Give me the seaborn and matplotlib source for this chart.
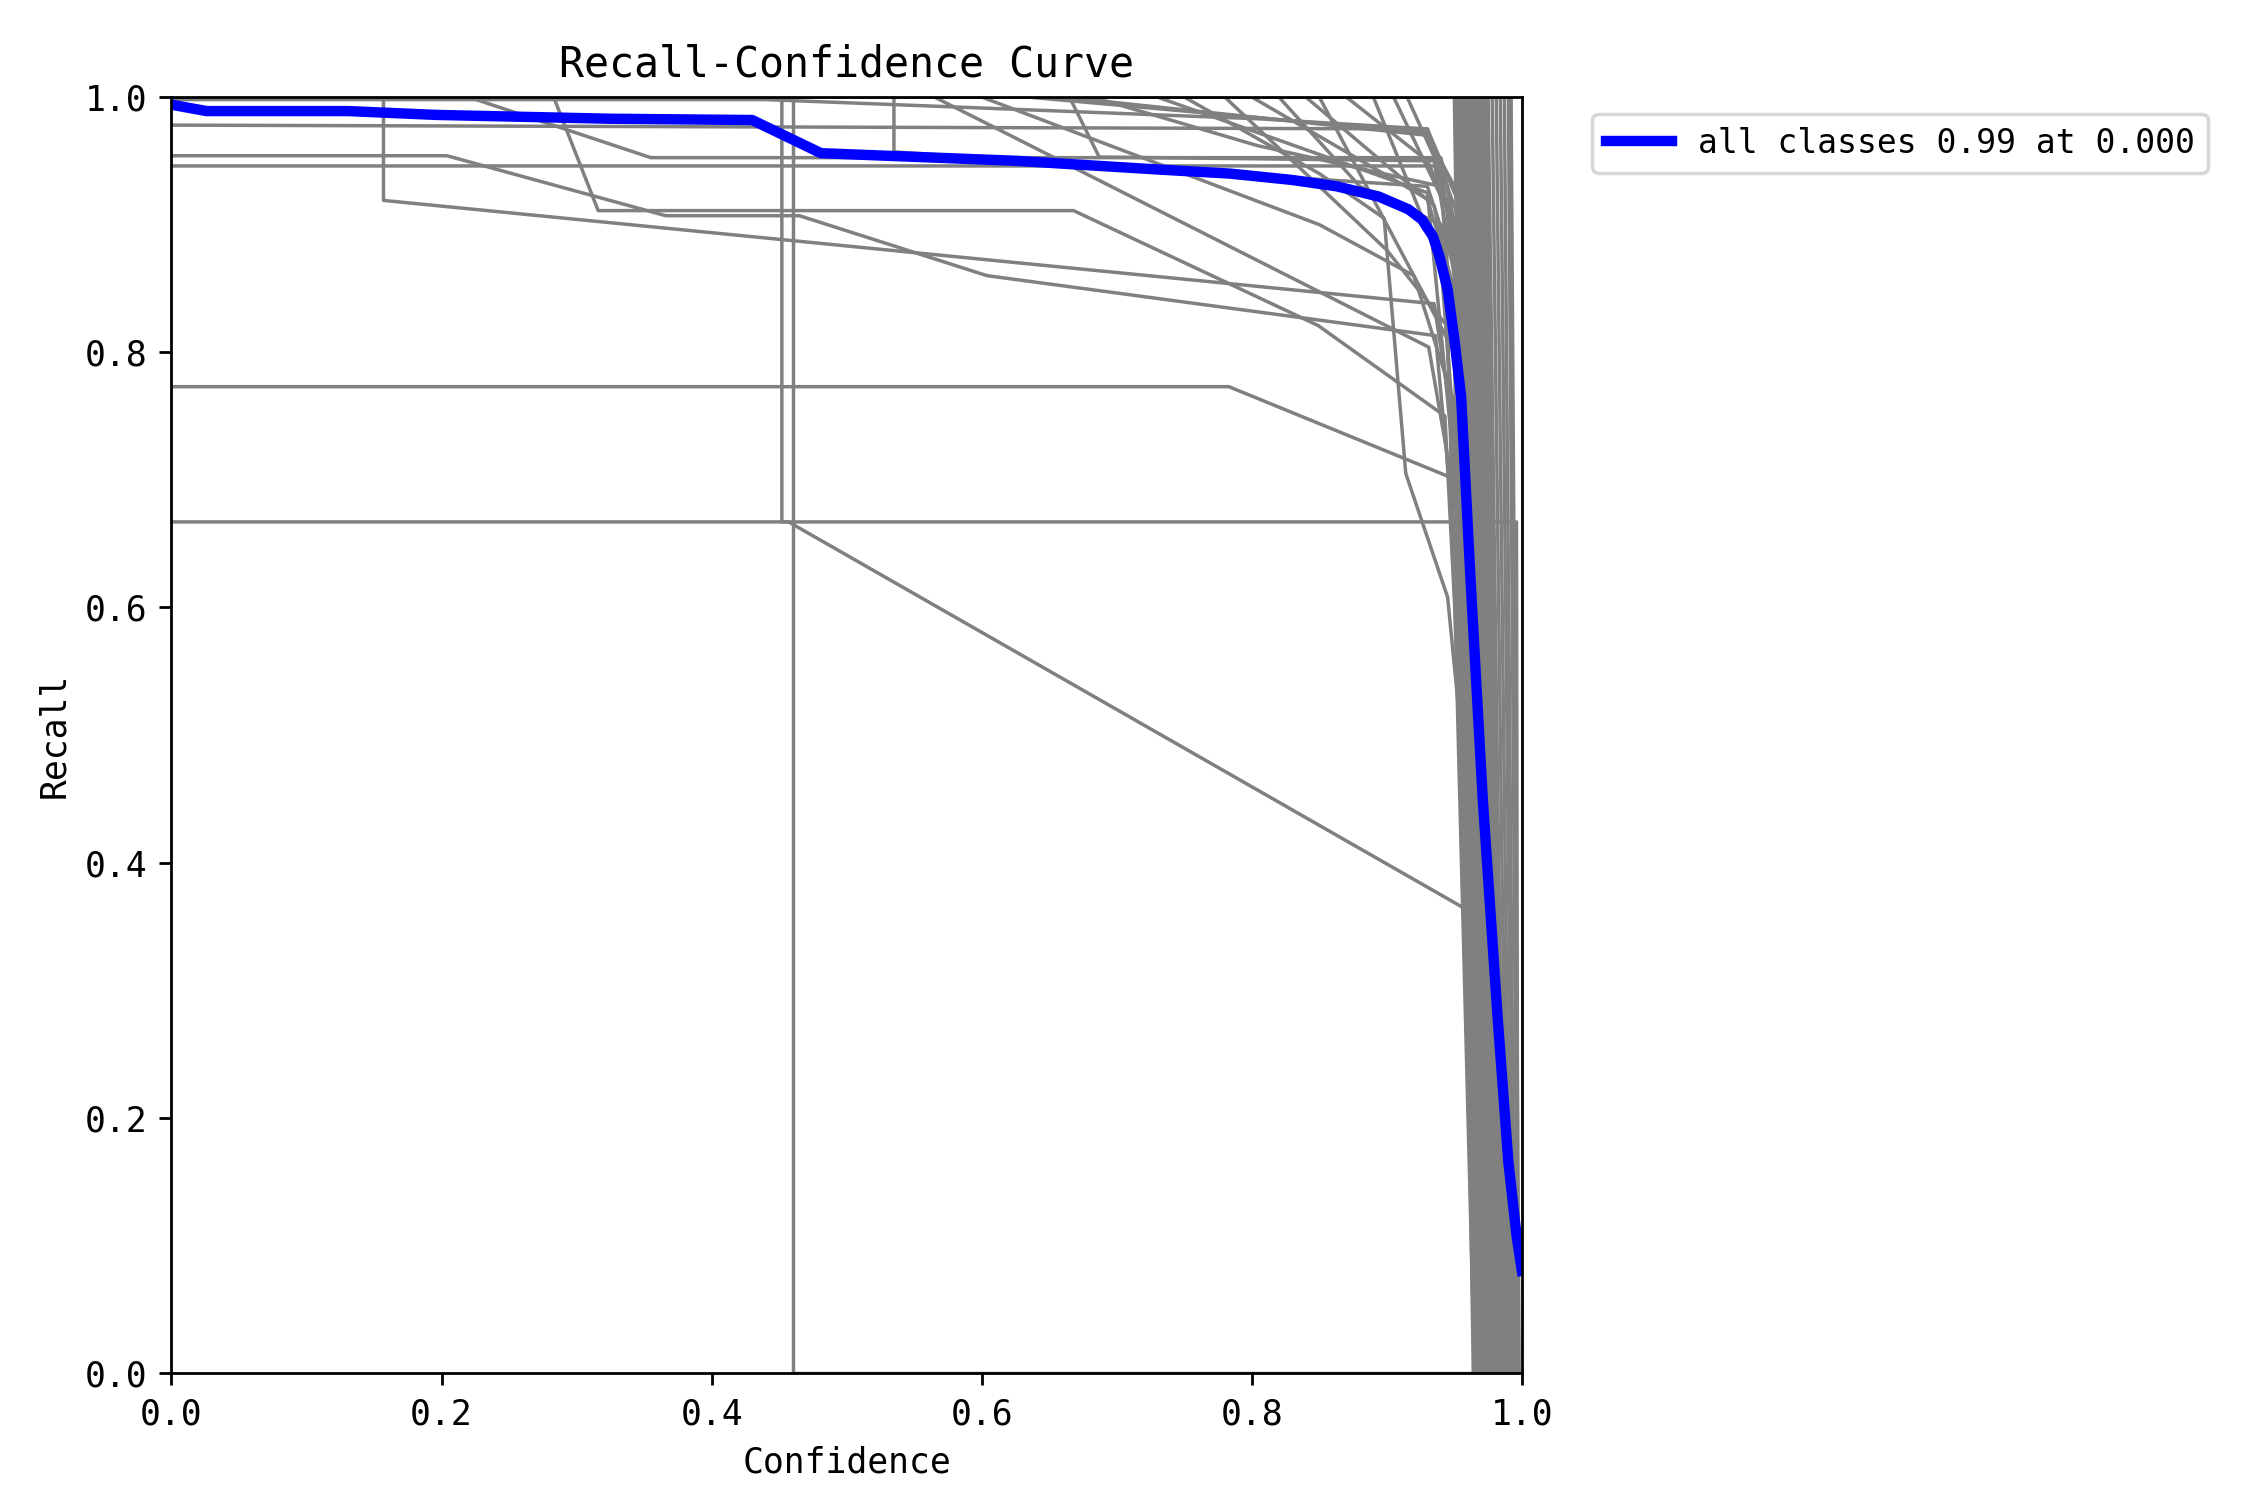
import numpy as np
import pandas as pd
import matplotlib
matplotlib.use("Agg")
import matplotlib.pyplot as plt
import seaborn as sns

# curvas por clase: (confianza, recall) en los puntos de quiebre
left_curves = [
    ([0, 0.93, 0.96, 0.975, 1], [0.978, 0.975, 0.85, 0, 0]),
    ([0, 0.204, 0.366, 0.465, 0.604, 0.936, 0.955, 0.97, 1], [0.954, 0.954, 0.907, 0.907, 0.86, 0.813, 0.6, 0, 0]),
    ([0, 0.157, 0.157, 0.935, 0.955, 0.968, 1], [1, 1, 0.919, 0.838, 0.7, 0, 0]),
    ([0, 0.283, 0.316, 0.668, 0.849, 0.943, 0.96, 0.967, 1], [1, 1, 0.911, 0.911, 0.821, 0.75, 0.4, 0, 0]),
    ([0, 0.22, 0.355, 0.94, 0.96, 0.972, 1], [1, 1, 0.9525, 0.9525, 0.85, 0, 0]),
    ([0, 0.94, 0.958, 0.97, 1], [0.946, 0.946, 0.8, 0, 0]),
    ([0, 0.783, 0.947, 0.962, 0.968, 1], [0.773, 0.773, 0.702, 0.3, 0, 0]),
    ([0, 0.996, 0.997, 1], [0.667, 0.667, 0, 0]),
    ([0, 0.452, 0.452, 0.457, 0.961, 0.987, 0.99, 1], [1, 1, 0.667, 0.667, 0.362, 0.345, 0, 0]),
    ([0, 0.46, 0.46, 1], [1, 1, 0, 0]),
    ([0, 0.535, 0.535, 0.93, 0.955, 0.97, 1], [1, 1, 0.957, 0.93, 0.85, 0, 0]),
]

top_curves = [
    ([0, 0.565, 0.931, 0.948, 0.962, 0.968, 1], [1, 1, 0.804, 0.70, 0.3, 0, 0]),
    ([0, 0.634, 0.93, 0.955, 0.972, 1], [1, 1, 0.972, 0.9, 0, 0]),
    ([0, 0.665, 0.687, 0.935, 0.96, 0.97, 1], [1, 1, 0.953, 0.95, 0.8, 0, 0]),
    ([0, 0.682, 0.804, 0.94, 0.958, 0.972, 1], [1, 1, 0.962, 0.93, 0.7, 0, 0]),
    ([0, 0.73, 0.85, 0.93, 0.96, 0.974, 1], [1, 1, 0.955, 0.925, 0.6, 0, 0]),
    ([0, 0.75, 0.85, 0.898, 0.914, 0.945, 0.955, 0.965, 1], [1, 1, 0.94, 0.905, 0.705, 0.608, 0.5, 0, 0]),
    ([0, 0.78, 0.9, 0.945, 0.965, 1], [1, 1, 0.88, 0.82, 0, 0]),
    ([0, 0.80, 0.93, 0.95, 0.97, 1], [1, 1, 0.92, 0.85, 0, 0]),
    ([0, 0.82, 0.88, 0.94, 0.96, 0.971, 1], [1, 1, 0.93, 0.90, 0.5, 0, 0]),
    ([0, 0.85, 0.92, 0.95, 0.967, 1], [1, 1, 0.86, 0.76, 0, 0]),
    ([0, 0.87, 0.93, 0.96, 0.975, 1], [1, 1, 0.95, 0.88, 0, 0]),
    ([0, 0.89, 0.94, 0.96, 0.97, 1], [1, 1, 0.87, 0.6, 0, 0]),
    ([0, 0.905, 0.95, 0.975, 1], [1, 1, 0.9, 0, 0]),
    ([0, 0.44, 0.804, 0.93, 0.96, 0.977, 1], [0.998, 0.998, 0.983, 0.975, 0.9, 0, 0]),
    ([0, 0.60, 0.85, 0.92, 0.95, 0.966, 1], [1, 1, 0.9, 0.86, 0.8, 0, 0]),
    ([0, 0.66, 0.93, 0.955, 0.97, 1], [1, 1, 0.97, 0.92, 0, 0]),
    ([0, 0.84, 0.935, 0.952, 0.969, 1], [1, 1, 0.915, 0.83, 0, 0]),
    ([0, 0.915, 0.945, 0.962, 0.973, 1], [1, 1, 0.93, 0.7, 0, 0]),
]

# haz casi vertical cerca de confianza 1: recall 1 hasta bundle_top, 0 en bundle_end
bundle_top = [0.950, 0.952, 0.954, 0.956, 0.957, 0.958, 0.960, 0.961, 0.962, 0.964, 0.965, 0.966,
              0.968, 0.969, 0.970, 0.972, 0.973, 0.975, 0.978, 0.981, 0.984, 0.987, 0.990, 0.992]
bundle_end = [0.964, 0.966, 0.967, 0.969, 0.970, 0.972, 0.973, 0.975, 0.976, 0.977, 0.979, 0.980,
              0.981, 0.983, 0.984, 0.985, 0.987, 0.988, 0.990, 0.992, 0.994, 0.995, 0.997, 0.998]

# curva media de todas las clases
mean_conf = [0, 0.026, 0.131, 0.196, 0.325, 0.43, 0.481, 0.626, 0.734, 0.784, 0.83, 0.863,
             0.894, 0.916, 0.926, 0.934, 0.939, 0.945, 0.950, 0.955, 0.962, 0.971, 0.982,
             0.99, 0.996, 1.0]
mean_recall = [0.994, 0.989, 0.989, 0.986, 0.983, 0.982, 0.956, 0.95, 0.943, 0.940, 0.935, 0.930,
               0.922, 0.912, 0.904, 0.891, 0.875, 0.849, 0.81, 0.765, 0.621, 0.45, 0.279,
               0.165, 0.108, 0.08]
legend_label = "all classes 0.99 at 0.000"

curves = left_curves + top_curves
for a, c in zip(bundle_top, bundle_end):
    curves.append(([0, a, c, 1], [1, 1, 0, 0]))

rows = []
for i, (cx, ry) in enumerate(curves):
    for k, (c, r) in enumerate(zip(cx, ry)):
        rows.append({"cls": i, "k": k, "conf": c, "recall": r})
df = pd.DataFrame(rows)

plt.rcParams["font.family"] = ["DejaVu Sans Mono", "DejaVu Sans"]
fig, ax = plt.subplots(figsize=(9, 6))
fig.subplots_adjust(left=0.0762, right=0.6764, bottom=0.0847, top=0.9353)

sns.lineplot(data=df, x="conf", y="recall", units="cls", estimator=None, sort=False,
             color="grey", linewidth=1, ax=ax, legend=False)
sns.lineplot(x=mean_conf, y=mean_recall, sort=False, color="blue", linewidth=3,
             label=legend_label, ax=ax)

ax.set_xlim(0, 1)
ax.set_ylim(0, 1)
ax.set_xlabel("Confidence")
ax.set_ylabel("Recall")
ax.set_title("Recall-Confidence Curve")
ax.legend(bbox_to_anchor=(1.04, 1), loc="upper left", fontsize=9.5)

fig.savefig("out.png", dpi=250)
